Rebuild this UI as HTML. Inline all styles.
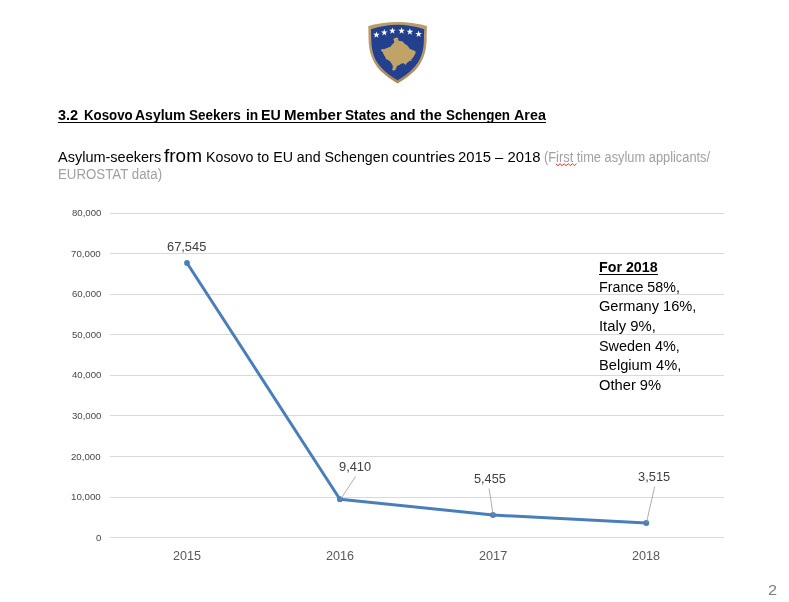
<!DOCTYPE html>
<html><head><meta charset="utf-8">
<title>3.2 Kosovo Asylum Seekers in EU Member States and the Schengen Area</title>
<style>
html,body{margin:0;padding:0;background:#fff;}
body{width:789px;height:602px;position:relative;overflow:hidden;font-family:"Liberation Sans",sans-serif;}
.t{position:absolute;white-space:nowrap;line-height:0;transform-origin:0 0;}
svg{position:absolute;left:0;top:0;}
#tx{position:absolute;left:0;top:0;width:789px;height:602px;will-change:transform;}
</style></head><body>
<svg width="789" height="602" viewBox="0 0 789 602">
<defs><linearGradient id="gg" x1="0" y1="0" x2="0" y2="1"><stop offset="0" stop-color="#b99d6c"/><stop offset="0.6" stop-color="#b6986a"/><stop offset="1" stop-color="#a88858"/></linearGradient></defs>
<g>
<path d="M368.3,26.1 Q397.6,17.9 426.9,26.1 L426.6,40 C426.3,52 423,62 415,70.5 C410,75.5 404,79.5 397.6,83.6 C391.2,79.5 385.2,75.5 380.2,70.5 C372.2,62 368.9,52 368.6,40 Z" fill="url(#gg)"/>
<path d="M371,29.3 Q397.6,20.3 424.2,29.3 L423.9,40 C423.7,51.5 420.8,61 413,68.5 C408.5,73.3 403,77 397.6,80.3 C392.2,77 386.7,73.3 382.2,68.5 C374.4,61 371.5,51.5 371.3,40 Z" fill="#23408f"/>
<polygon fill="#c2a366" points="393.3,39.0 394.9,38.0 396.9,37.5 398.4,38.3 398.1,40.3 399.9,41.0 402.2,41.3 403.6,42.6 404.6,44.0 406.2,44.6 407.9,46.3 408.9,47.6 409.9,49.0 411.6,49.6 413.9,50.5 415.7,51.4 415.5,53.3 414.5,54.9 413.5,56.9 412.2,58.6 411.2,59.6 411.9,60.9 410.2,60.6 408.2,61.9 406.6,63.2 405.6,64.9 403.6,63.2 401.6,63.6 399.3,64.9 396.9,65.9 396.3,67.9 395.3,69.9 393.3,70.7 392.1,69.5 392.9,67.2 392.6,65.2 391.3,63.2 390.0,61.2 388.0,59.9 386.0,58.9 385.0,56.6 383.6,54.6 383.0,52.6 381.3,50.9 381.1,49.6 383.0,49.0 384.6,49.1 386.3,48.3 389.0,47.3 391.0,46.6 391.6,45.0 393.3,43.6 394.4,42.0 393.9,40.6"/>
<g fill="#ffffff"><polygon points="376.40,31.40 377.22,33.77 379.73,33.82 377.73,35.33 378.46,37.73 376.40,36.30 374.34,37.73 375.07,35.33 373.07,33.82 375.58,33.77"/><polygon points="384.30,29.10 385.12,31.47 387.63,31.52 385.63,33.03 386.36,35.43 384.30,34.00 382.24,35.43 382.97,33.03 380.97,31.52 383.48,31.47"/><polygon points="392.40,27.40 393.22,29.77 395.73,29.82 393.73,31.33 394.46,33.73 392.40,32.30 390.34,33.73 391.07,31.33 389.07,29.82 391.58,29.77"/><polygon points="401.60,27.30 402.42,29.67 404.93,29.72 402.93,31.23 403.66,33.63 401.60,32.20 399.54,33.63 400.27,31.23 398.27,29.72 400.78,29.67"/><polygon points="409.90,28.30 410.72,30.67 413.23,30.72 411.23,32.23 411.96,34.63 409.90,33.20 407.84,34.63 408.57,32.23 406.57,30.72 409.08,30.67"/><polygon points="418.60,30.60 419.42,32.97 421.93,33.02 419.93,34.53 420.66,36.93 418.60,35.50 416.54,36.93 417.27,34.53 415.27,33.02 417.78,32.97"/></g>
</g>
<g fill="#d9d9d9" shape-rendering="crispEdges"><rect x="110" y="213" width="614" height="1"/><rect x="110" y="253" width="614" height="1"/><rect x="110" y="294" width="614" height="1"/><rect x="110" y="334" width="614" height="1"/><rect x="110" y="375" width="614" height="1"/><rect x="110" y="415" width="614" height="1"/><rect x="110" y="456" width="614" height="1"/><rect x="110" y="497" width="614" height="1"/><rect x="110" y="537" width="614" height="1"/></g>
<polyline points="187.0,263.0 339.9,499.2 493.0,515.0 646.3,523.0" fill="none" stroke="#4a7ebb" stroke-width="3" stroke-linejoin="round" stroke-linecap="round"/>
<g fill="#4a7ebb"><circle cx="187.0" cy="263.0" r="2.9"/><circle cx="339.9" cy="499.2" r="2.9"/><circle cx="493.0" cy="515.0" r="2.9"/><circle cx="646.3" cy="523.0" r="2.9"/></g>
<g stroke="#9a9a9a" stroke-width="0.8" fill="none">
<line x1="340.3" y1="499.6" x2="355.6" y2="476.5"/>
<line x1="493.2" y1="515.3" x2="489.1" y2="488.4"/>
<line x1="646.5" y1="522.6" x2="654.7" y2="486.5"/>
</g>
<rect x="58" y="122" width="488" height="1" fill="#000"/>
<rect x="599" y="274" width="59" height="1" fill="#000"/>
<path d="M555.9,163.7 L557.96,165.7 L560.02,163.7 L562.08,165.7 L564.14,163.7 L566.20,165.7 L568.26,163.7 L570.32,165.7 L572.38,163.7 L574.44,165.7 L576.50,163.7" fill="none" stroke="#ff2020" stroke-width="1"/>
</svg>
<div id="tx">
<div class="t" style="left:58.38px;top:115.00px;font-size:14px;font-weight:bold;color:#000000;transform:scale(1.0337,1)">3.2</div>
<div class="t" style="left:83.54px;top:115.00px;font-size:14px;font-weight:bold;color:#000000;transform:scale(0.9488,1)">Kosovo</div>
<div class="t" style="left:134.85px;top:115.00px;font-size:14px;font-weight:bold;color:#000000;transform:scale(0.9988,1)">Asylum</div>
<div class="t" style="left:189.39px;top:115.00px;font-size:14px;font-weight:bold;color:#000000;transform:scale(0.9629,1)">Seekers</div>
<div class="t" style="left:245.58px;top:115.00px;font-size:14px;font-weight:bold;color:#000000;transform:scale(0.9821,1)">in</div>
<div class="t" style="left:261.08px;top:115.00px;font-size:14px;font-weight:bold;color:#000000;transform:scale(1.0151,1)">EU</div>
<div class="t" style="left:284.35px;top:115.00px;font-size:14px;font-weight:bold;color:#000000;transform:scale(1.0775,1)">Member</div>
<div class="t" style="left:345.08px;top:115.00px;font-size:14px;font-weight:bold;color:#000000;transform:scale(0.9748,1)">States</div>
<div class="t" style="left:390.09px;top:115.00px;font-size:14px;font-weight:bold;color:#000000;transform:scale(1.0277,1)">and</div>
<div class="t" style="left:420.07px;top:115.00px;font-size:14px;font-weight:bold;color:#000000;transform:scale(1.0433,1)">the</div>
<div class="t" style="left:446.00px;top:115.00px;font-size:14px;font-weight:bold;color:#000000;transform:scale(0.9570,1)">Schengen</div>
<div class="t" style="left:513.83px;top:115.00px;font-size:14px;font-weight:bold;color:#000000;transform:scale(1.0232,1)">Area</div>
<div class="t" style="left:57.86px;top:157.00px;font-size:14px;color:#000000;transform:scale(1.0357,1)">Asylum-seekers</div>
<div class="t" style="left:164.04px;top:156.00px;font-size:18px;color:#000000;transform:scale(1.0559,1)">from</div>
<div class="t" style="left:206.30px;top:157.00px;font-size:14px;color:#000000;transform:scale(1.0154,1)">Kosovo to EU and Schengen</div>
<div class="t" style="left:391.93px;top:157.00px;font-size:14px;color:#000000;transform:scale(1.1087,1)">countries</div>
<div class="t" style="left:458.42px;top:157.00px;font-size:14px;color:#000000;transform:scale(1.0596,1)">2015 – 2018</div>
<div class="t" style="left:543.70px;top:157.00px;font-size:14px;color:#a0a0a0;transform:scale(0.9162,1)">(First time asylum applicants/</div>
<div class="t" style="left:58.16px;top:174.00px;font-size:14px;color:#a0a0a0;transform:scale(0.9487,1)">EUROSTAT data)</div>
<div class="t" style="left:599.29px;top:267.00px;font-size:14px;font-weight:bold;color:#000000;transform:scale(1.0181,1)">For 2018</div>
<div class="t" style="left:599.19px;top:287.00px;font-size:14px;color:#000000;transform:scale(1.0186,1)">France 58%,</div>
<div class="t" style="left:599.10px;top:306.00px;font-size:14px;color:#000000;transform:scale(1.0428,1)">Germany 16%,</div>
<div class="t" style="left:599.20px;top:326.00px;font-size:14px;color:#000000;transform:scale(1.0598,1)">Italy 9%,</div>
<div class="t" style="left:599.05px;top:346.00px;font-size:14px;color:#000000;transform:scale(1.0284,1)">Sweden 4%,</div>
<div class="t" style="left:599.17px;top:365.00px;font-size:14px;color:#000000;transform:scale(1.0462,1)">Belgium 4%,</div>
<div class="t" style="left:599.22px;top:385.00px;font-size:14px;color:#000000;transform:scale(1.0505,1)">Other 9%</div>
<div class="t" style="left:167.16px;top:247.00px;font-size:12.6px;color:#404040;transform:scale(1.0198,1)">67,545</div>
<div class="t" style="left:339.17px;top:467.00px;font-size:12.6px;color:#404040;transform:scale(1.0184,1)">9,410</div>
<div class="t" style="left:473.75px;top:479.00px;font-size:12.6px;color:#404040;transform:scale(1.0115,1)">5,455</div>
<div class="t" style="left:637.98px;top:477.00px;font-size:12.6px;color:#404040;transform:scale(1.0237,1)">3,515</div>
<div class="t" style="left:172.84px;top:556.00px;font-size:12.6px;color:#595959;transform:scale(1.0007,1)">2015</div>
<div class="t" style="left:325.84px;top:556.00px;font-size:12.6px;color:#595959;transform:scale(1.0015,1)">2016</div>
<div class="t" style="left:478.83px;top:556.00px;font-size:12.6px;color:#595959;transform:scale(1.0068,1)">2017</div>
<div class="t" style="left:631.84px;top:556.00px;font-size:12.6px;color:#595959;transform:scale(1.0026,1)">2018</div>
<div class="t" style="left:767.94px;top:590.00px;font-size:14px;color:#7f7f7f;transform:scale(1.1606,1)">2</div>
<div class="t" style="left:71.61px;top:213.21px;font-size:10.0px;color:#484848;transform:scale(0.9604,0.93)">80,000</div>
<div class="t" style="left:71.24px;top:254.21px;font-size:10.0px;color:#484848;transform:scale(0.9721,0.93)">70,000</div>
<div class="t" style="left:71.59px;top:294.21px;font-size:10.0px;color:#484848;transform:scale(0.9607,0.93)">60,000</div>
<div class="t" style="left:71.61px;top:335.21px;font-size:10.0px;color:#484848;transform:scale(0.9601,0.93)">50,000</div>
<div class="t" style="left:71.65px;top:375.21px;font-size:10.0px;color:#484848;transform:scale(0.9588,0.93)">40,000</div>
<div class="t" style="left:71.59px;top:416.21px;font-size:10.0px;color:#484848;transform:scale(0.9607,0.93)">30,000</div>
<div class="t" style="left:71.48px;top:457.21px;font-size:10.0px;color:#484848;transform:scale(0.9643,0.93)">20,000</div>
<div class="t" style="left:71.20px;top:497.21px;font-size:10.0px;color:#484848;transform:scale(0.9735,0.93)">10,000</div>
<div class="t" style="left:95.61px;top:538.21px;font-size:10.0px;color:#484848;transform:scale(0.9604,0.93)">0</div>
</div>
</body></html>
